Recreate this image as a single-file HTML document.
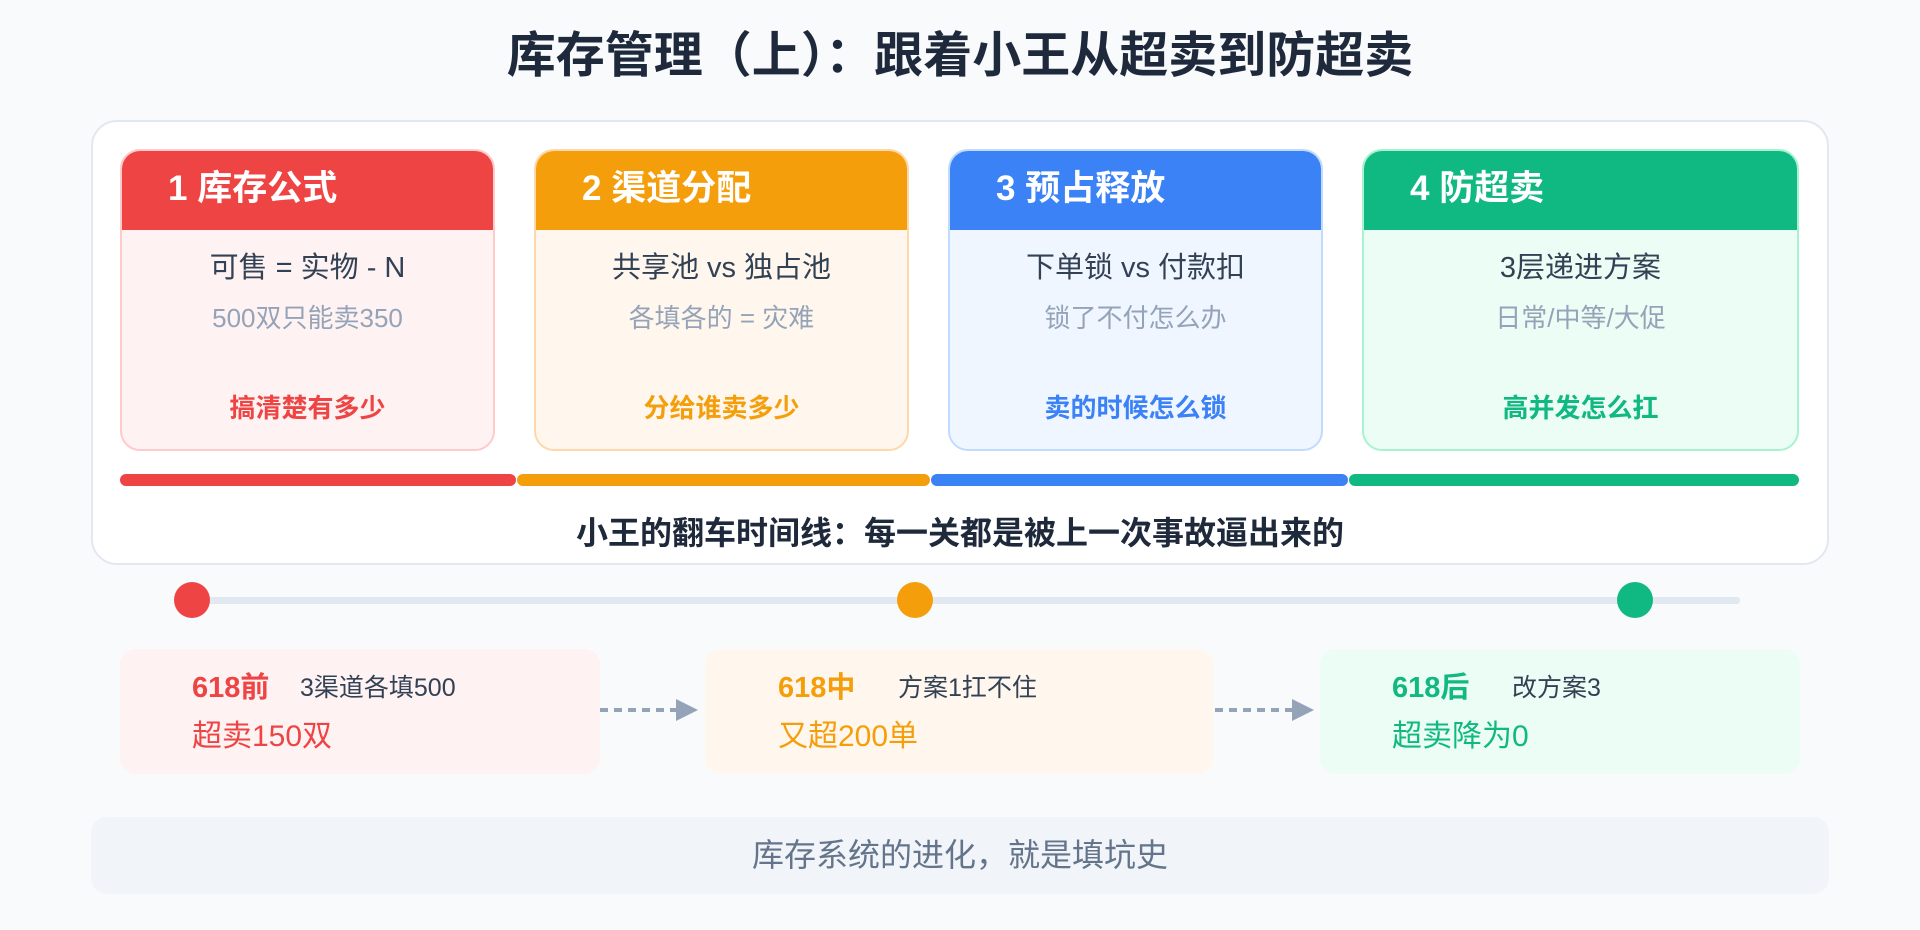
<!DOCTYPE html>
<html><head><meta charset="utf-8"><style>
*{margin:0;padding:0;box-sizing:border-box}
body{width:1920px;height:930px;background:#f8fafc;position:relative;overflow:hidden;font-family:"Liberation Sans","Noto Sans CJK SC",sans-serif}
.a{position:absolute}
.title{left:0;width:1920px;top:24px;text-align:center;font-size:49px;line-height:64px;font-weight:bold;color:#1e293b}
.panel{left:91px;top:120px;width:1738px;height:445px;background:#fff;border:2px solid #e2e8f0;border-radius:26px}
.card{top:149px;height:302px;border:2px solid;border-radius:20px;overflow:hidden}
.hd{height:79px;color:#fff;font-size:35px;font-weight:bold;padding-left:46px;line-height:76px}
.c{position:absolute;left:0;right:0;text-align:center;height:40px;line-height:40px;white-space:nowrap}
.l1{top:97px;font-size:29px;color:#334155}
.l2{top:147px;font-size:26px;color:#94a3b8}
.l3{top:237px;font-size:26px;font-weight:bold}
.bar{top:474px;height:12px;border-radius:6px}
.dot{width:36px;height:36px;border-radius:50%;top:582px}
.ev{top:649px;height:125px;border-radius:16px}
.e1{top:668px;height:40px;line-height:40px;font-size:25px;color:#334155;white-space:nowrap}
.e2{top:717px;height:40px;line-height:40px;font-size:30px;white-space:nowrap}
</style></head><body>
<div class="a title">库存管理（上）：跟着小王从超卖到防超卖</div>
<div class="a panel"></div>

<div class="a card" style="left:120px;width:375px;border-color:#fecaca;background:#fef2f2"><div class="hd" style="background:#ef4444">1 库存公式</div><div class="c l1">可售 = 实物 - N</div><div class="c l2">500双只能卖350</div><div class="c l3" style="color:#ef4444">搞清楚有多少</div></div>
<div class="a card" style="left:534px;width:375px;border-color:#fed7aa;background:#fff7ed"><div class="hd" style="background:#f59e0b">2 渠道分配</div><div class="c l1">共享池 vs 独占池</div><div class="c l2">各填各的 = 灾难</div><div class="c l3" style="color:#f59e0b">分给谁卖多少</div></div>
<div class="a card" style="left:948px;width:375px;border-color:#bfdbfe;background:#eff6ff"><div class="hd" style="background:#3b82f6">3 预占释放</div><div class="c l1">下单锁 vs 付款扣</div><div class="c l2">锁了不付怎么办</div><div class="c l3" style="color:#3b82f6">卖的时候怎么锁</div></div>
<div class="a card" style="left:1362px;width:437px;border-color:#a7f3d0;background:#ecfdf5"><div class="hd" style="background:#10b981">4 防超卖</div><div class="c l1">3层递进方案</div><div class="c l2">日常/中等/大促</div><div class="c l3" style="color:#10b981">高并发怎么扛</div></div>

<div class="a bar" style="left:120px;width:396px;background:#ef4444"></div>
<div class="a bar" style="left:517px;width:413px;background:#f59e0b"></div>
<div class="a bar" style="left:931px;width:417px;background:#3b82f6"></div>
<div class="a bar" style="left:1349px;width:450px;background:#10b981"></div>
<div class="a" style="left:0;width:1920px;top:512px;line-height:42px;text-align:center;font-size:32px;font-weight:bold;color:#1e293b">小王的翻车时间线：每一关都是被上一次事故逼出来的</div>

<div class="a" style="left:192px;width:1548px;top:597px;height:7px;background:#e2e8f0;border-radius:3px"></div>
<div class="a dot" style="left:174px;background:#ef4444"></div>
<div class="a dot" style="left:897px;background:#f59e0b"></div>
<div class="a dot" style="left:1617px;background:#10b981"></div>

<div class="a ev" style="left:120px;width:480px;background:#fef2f2"></div>
<div class="a ev" style="left:705px;width:508px;background:#fff7ed"></div>
<div class="a ev" style="left:1320px;width:480px;background:#ecfdf5"></div>

<div class="a e1" style="left:192px"><b style="color:#ef4444;font-size:29px">618前</b></div><div class="a e1" style="left:300px">3渠道各填500</div>
<div class="a e2" style="left:192px;color:#ef4444">超卖150双</div>
<div class="a e1" style="left:778px"><b style="color:#f59e0b;font-size:29px">618中</b></div><div class="a e1" style="left:898px">方案1扛不住</div>
<div class="a e2" style="left:778px;color:#f59e0b">又超200单</div>
<div class="a e1" style="left:1392px"><b style="color:#10b981;font-size:29px">618后</b></div><div class="a e1" style="left:1512px">改方案3</div>
<div class="a e2" style="left:1392px;color:#10b981">超卖降为0</div>

<svg class="a" style="left:0;top:0" width="1920" height="930">
<line x1="600" y1="710" x2="678" y2="710" stroke="#94a3b8" stroke-width="4" stroke-dasharray="8 6"/>
<polygon points="676,699 698,710 676,721" fill="#94a3b8"/>
<line x1="1215" y1="710" x2="1292" y2="710" stroke="#94a3b8" stroke-width="4" stroke-dasharray="8 6"/>
<polygon points="1292,699 1314,710 1292,721" fill="#94a3b8"/>
</svg>

<div class="a" style="left:91px;top:817px;width:1738px;height:77px;background:#f1f5f9;border-radius:16px;text-align:center;line-height:77px;font-size:32px;color:#64748b">库存系统的进化，就是填坑史</div>
</body></html>
